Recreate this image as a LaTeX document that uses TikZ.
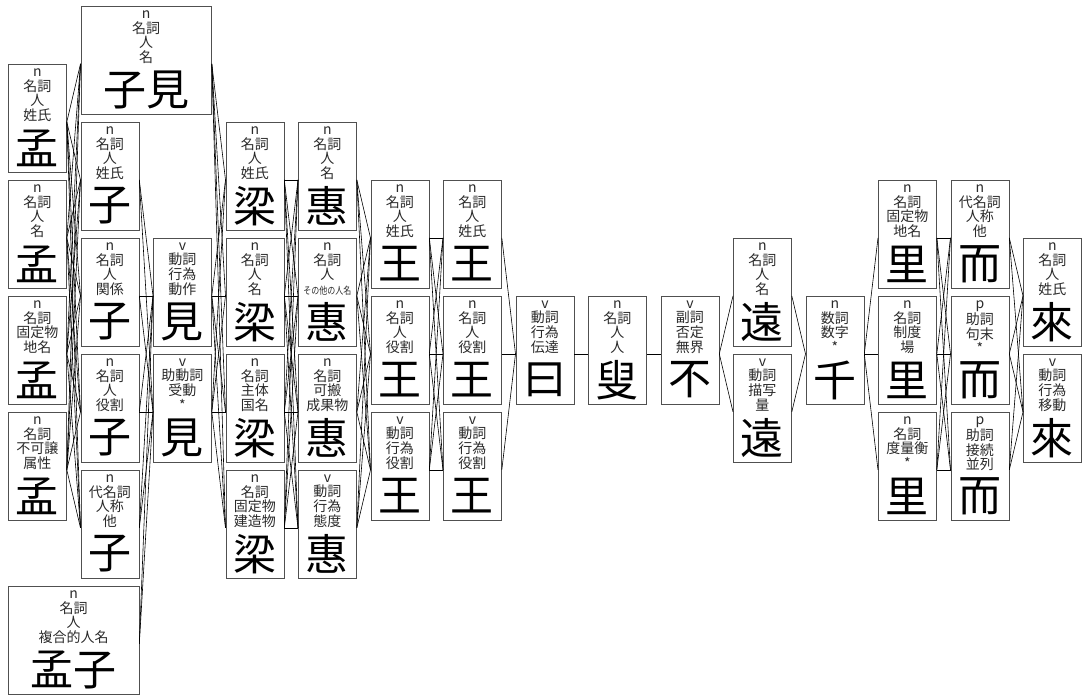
\documentclass[tikz,border=0pt]{standalone}
\usepackage{fontspec}
\usepackage{graphicx}
\newfontfamily\cjk{Noto Sans CJK JP}
\definecolor{boxgray}{HTML}{505050}
\definecolor{labgray}{HTML}{2A2A2A}
\newcommand\lnode[6]{%
  \node[box, minimum width=#4] (#1) at (#2,#3) {};
  \node[lbl] (#1-l) at ([yshift=-4.5pt]#1.north) {#5};
  \node[bigc] (#1-c) at ([yshift=-84pt]#1.north) {#6};
}
\newcommand\conn[2]{\draw[edge] ([yshift=-3.5pt]#1.east) -- ([yshift=-3.5pt]#2.west);}
\begin{document}
\begin{tikzpicture}[x=1pt,y=-1pt,
  box/.style={draw=boxgray, line width=0.8pt, minimum height=108pt, inner sep=0pt, anchor=north west},
  lbl/.style={anchor=north, align=center, inner sep=0pt, text=labgray, font=\cjk\fontsize{14}{14.6}\selectfont},
  bigc/.style={anchor=center, inner sep=0pt, text=black, font=\cjk\fontsize{43}{43}\selectfont},
  edge/.style={draw=black, line width=0.6pt}]
\useasboundingbox (0,0) rectangle (1084,695);
% column 0: 孟
\lnode{A1}{8}{64}{58}{n\\名詞\\人\\姓氏}{孟}
\lnode{A2}{8}{180}{58}{n\\名詞\\人\\名}{孟}
\lnode{A3}{8}{296}{58}{n\\名詞\\固定物\\地名}{孟}
\lnode{A4}{8}{412}{58}{n\\名詞\\不可譲\\属性}{孟}
\lnode{AB}{8}{586}{130.5}{n\\名詞\\人\\複合的人名}{孟子}
% column 1: 子
\lnode{BC}{80.5}{6}{130.5}{n\\名詞\\人\\名}{子見}
\lnode{B1}{80.5}{122}{58}{n\\名詞\\人\\姓氏}{子}
\lnode{B2}{80.5}{238}{58}{n\\名詞\\人\\関係}{子}
\lnode{B3}{80.5}{354}{58}{n\\名詞\\人\\役割}{子}
\lnode{B4}{80.5}{470}{58}{n\\代名詞\\人称\\他}{子}
% column 2: 見
\lnode{C1}{153}{238}{58}{v\\動詞\\行為\\動作}{見}
\lnode{C2}{153}{354}{58}{v\\助動詞\\受動\\*}{見}
% column 3: 梁
\lnode{D1}{225.5}{122}{58}{n\\名詞\\人\\姓氏}{梁}
\lnode{D2}{225.5}{238}{58}{n\\名詞\\人\\名}{梁}
\lnode{D3}{225.5}{354}{58}{n\\名詞\\主体\\国名}{梁}
\lnode{D4}{225.5}{470}{58}{n\\名詞\\固定物\\建造物}{梁}
% column 4: 惠
\lnode{E1}{298}{122}{58}{n\\名詞\\人\\名}{惠}
\lnode{E2}{298}{238}{58}{n\\名詞\\人\\\scalebox{0.8}[1]{\fontsize{10}{14.6}\selectfont その他の人名}}{惠}
\lnode{E3}{298}{354}{58}{n\\名詞\\可搬\\成果物}{惠}
\lnode{E4}{298}{470}{58}{v\\動詞\\行為\\態度}{惠}
% column 5: 王
\lnode{F1}{370.5}{180}{58}{n\\名詞\\人\\姓氏}{王}
\lnode{F2}{370.5}{296}{58}{n\\名詞\\人\\役割}{王}
\lnode{F3}{370.5}{412}{58}{v\\動詞\\行為\\役割}{王}
% column 6: 王
\lnode{G1}{443}{180}{58}{n\\名詞\\人\\姓氏}{王}
\lnode{G2}{443}{296}{58}{n\\名詞\\人\\役割}{王}
\lnode{G3}{443}{412}{58}{v\\動詞\\行為\\役割}{王}
% columns 7-9
\lnode{H}{515.5}{296}{58}{v\\動詞\\行為\\伝達}{曰}
\lnode{I}{588}{296}{58}{n\\名詞\\人\\人}{叟}
\lnode{J}{660.5}{296}{58}{v\\副詞\\否定\\無界}{不}
% column 10: 遠
\lnode{K1}{733}{238}{58}{n\\名詞\\人\\名}{遠}
\lnode{K2}{733}{354}{58}{v\\動詞\\描写\\量}{遠}
% column 11: 千
\lnode{L}{805.5}{296}{58}{n\\数詞\\数字\\*}{千}
% column 12: 里
\lnode{M1}{878}{180}{58}{n\\名詞\\固定物\\地名}{里}
\lnode{M2}{878}{296}{58}{n\\名詞\\制度\\場}{里}
\lnode{M3}{878}{412}{58}{n\\名詞\\度量衡\\*}{里}
% column 13: 而
\lnode{N1}{950.5}{180}{58}{n\\代名詞\\人称\\他}{而}
\lnode{N2}{950.5}{296}{58}{p\\助詞\\句末\\*}{而}
\lnode{N3}{950.5}{412}{58}{p\\助詞\\接続\\並列}{而}
% column 14: 來
\lnode{O1}{1023}{238}{58}{n\\名詞\\人\\姓氏}{來}
\lnode{O2}{1023}{354}{58}{v\\動詞\\行為\\移動}{來}
% connectors
\foreach \a in {A1,A2,A3,A4}{\foreach \b in {B1,B2,B3,B4,BC}{\conn{\a}{\b}}}
\foreach \a in {AB,B1,B2,B3,B4}{\foreach \b in {C1,C2}{\conn{\a}{\b}}}
\foreach \a in {BC,C1,C2}{\foreach \b in {D1,D2,D3,D4}{\conn{\a}{\b}}}
\foreach \a in {D1,D2,D3,D4}{\foreach \b in {E1,E2,E3,E4}{\conn{\a}{\b}}}
\foreach \a in {E1,E2,E3,E4}{\foreach \b in {F1,F2,F3}{\conn{\a}{\b}}}
\foreach \a in {F1,F2,F3}{\foreach \b in {G1,G2,G3}{\conn{\a}{\b}}}
\foreach \a in {G1,G2,G3}{\conn{\a}{H}}
\conn{H}{I}
\conn{I}{J}
\conn{J}{K1}
\conn{J}{K2}
\conn{K1}{L}
\conn{K2}{L}
\foreach \b in {M1,M2,M3}{\conn{L}{\b}}
\foreach \a in {M1,M2,M3}{\foreach \b in {N1,N2,N3}{\conn{\a}{\b}}}
\foreach \a in {N1,N2,N3}{\foreach \b in {O1,O2}{\conn{\a}{\b}}}
\end{tikzpicture}
\end{document}
